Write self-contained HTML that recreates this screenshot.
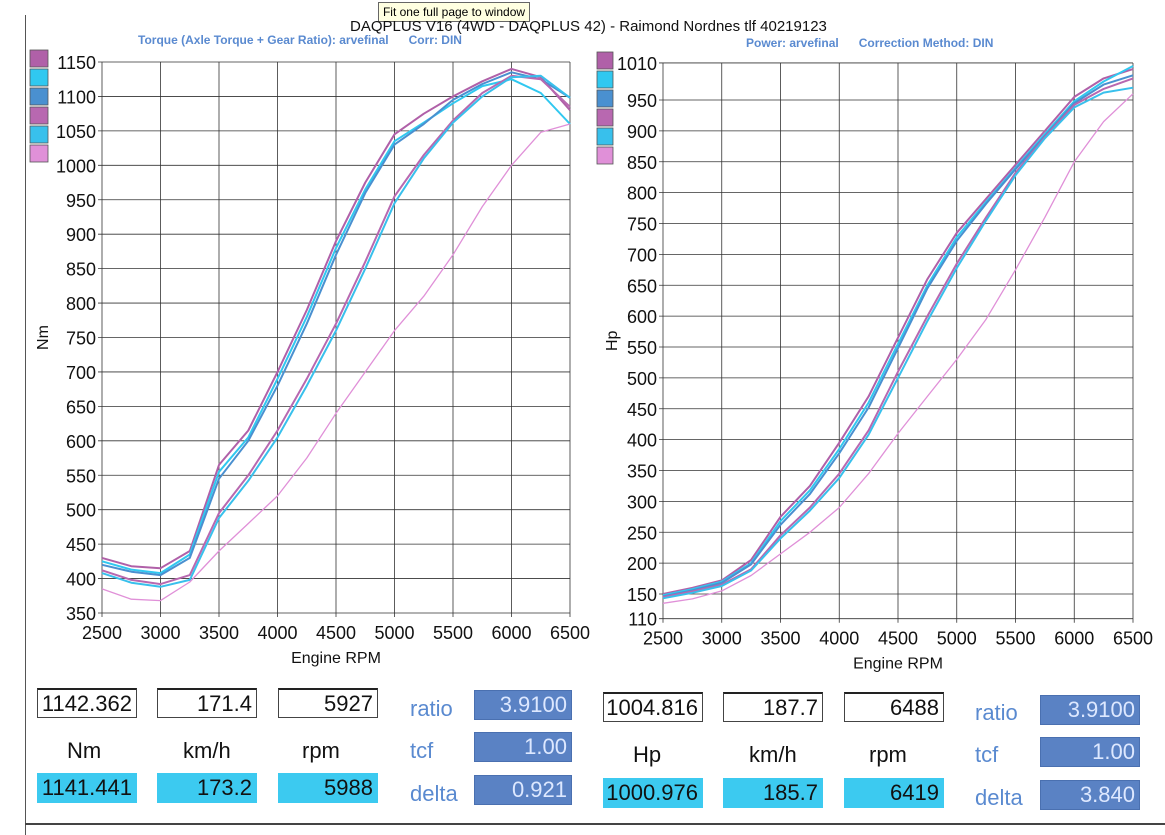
<!DOCTYPE html>
<html><head><meta charset="utf-8">
<style>
body{margin:0;width:1165px;height:835px;background:#fff;position:relative;overflow:hidden;font-family:"Liberation Sans",sans-serif}
.abs{position:absolute}
.box{position:absolute;border:1px solid #444;border-top:2px solid #222;background:#fff;font-size:22px;text-align:right;padding-right:4px;box-sizing:border-box;height:30px;line-height:28px;color:#111}
.cy{background:#3ccaf0;border:1px solid #3ccaf0}
.bl{background:#5a82c4;border:1px solid #4a70b0;color:#dde8ff}
.lbl{position:absolute;font-size:22px;color:#111}
.bl-t{position:absolute;font-size:22px;color:#5a8ad0}
</style></head><body>
<div class="abs" style="left:378px;top:2px;width:150px;height:18px;background:#ffffe1;border:1px solid #666;font-size:12px;line-height:18px;text-align:center">Fit one full page to window</div>
<div class="abs" style="left:350px;top:18px;font-size:15px;color:#111">DAQPLUS V16 (4WD - DAQPLUS 42) - Raimond Nordnes tlf 40219123</div>
<div class="abs" style="left:138px;top:33px;font-size:12px;font-weight:bold;color:#5a8ad0">Torque (Axle Torque + Gear Ratio): arvefinal&nbsp;&nbsp;&nbsp;&nbsp;&nbsp;&nbsp;Corr: DIN</div>
<div class="abs" style="left:746px;top:36px;font-size:12px;font-weight:bold;color:#5a8ad0">Power: arvefinal&nbsp;&nbsp;&nbsp;&nbsp;&nbsp;&nbsp;Correction Method: DIN</div>
<div class="abs" style="left:25px;top:15px;width:1px;height:820px;background:#555"></div>
<svg class="abs" style="left:0;top:0" width="1165" height="835" id="svg"></svg>

<div>
<div class="box" style="left:37px;top:688px;width:100px">1142.362</div>
<div class="box" style="left:157px;top:688px;width:100px">171.4</div>
<div class="box" style="left:278px;top:688px;width:100px">5927</div>
<div class="lbl" style="left:67px;top:738px">Nm</div>
<div class="lbl" style="left:183px;top:738px">km/h</div>
<div class="lbl" style="left:302px;top:738px">rpm</div>
<div class="box cy" style="left:37px;top:773px;width:100px">1141.441</div>
<div class="box cy" style="left:157px;top:773px;width:100px">173.2</div>
<div class="box cy" style="left:278px;top:773px;width:100px">5988</div>
<div class="bl-t" style="left:410px;top:696px">ratio</div>
<div class="bl-t" style="left:410px;top:738px">tcf</div>
<div class="bl-t" style="left:410px;top:781px">delta</div>
<div class="box bl" style="left:474px;top:690px;width:98px">3.9100</div>
<div class="box bl" style="left:474px;top:732px;width:98px">1.00</div>
<div class="box bl" style="left:474px;top:775px;width:98px">0.921</div>
</div>
<div>
<div class="box" style="left:603px;top:692px;width:100px">1004.816</div>
<div class="box" style="left:723px;top:692px;width:100px">187.7</div>
<div class="box" style="left:844px;top:692px;width:100px">6488</div>
<div class="lbl" style="left:633px;top:742px">Hp</div>
<div class="lbl" style="left:749px;top:742px">km/h</div>
<div class="lbl" style="left:869px;top:742px">rpm</div>
<div class="box cy" style="left:603px;top:778px;width:100px">1000.976</div>
<div class="box cy" style="left:723px;top:778px;width:100px">185.7</div>
<div class="box cy" style="left:844px;top:778px;width:100px">6419</div>
<div class="bl-t" style="left:975px;top:700px">ratio</div>
<div class="bl-t" style="left:975px;top:742px">tcf</div>
<div class="bl-t" style="left:975px;top:785px">delta</div>
<div class="box bl" style="left:1040px;top:695px;width:100px">3.9100</div>
<div class="box bl" style="left:1040px;top:737px;width:100px">1.00</div>
<div class="box bl" style="left:1040px;top:780px;width:100px">3.840</div>
</div>
<div class="abs" style="left:25px;top:823px;width:1140px;height:2px;background:#444"></div>

<script>
const rpm = [2500,2750,3000,3250,3500,3750,4000,4250,4500,4750,5000,5250,5500,5750,6000,6250,6500];
const xTicks = [2500,3000,3500,4000,4500,5000,5500,6000,6500];
const torqueTicks = [1150,1100,1050,1000,950,900,850,800,750,700,650,600,550,500,450,400,350];
const powerTicks = [1010,950,900,850,800,750,700,650,600,550,500,450,400,350,300,250,200,150,110];
const colors = ['#b060a8','#30c8f0','#4a90d0','#b868b0','#38c0ec','#e090d8'];
const torque1 = [430,418,415,440,565,615,700,790,890,975,1045,1075,1100,1122,1140,1128,1080];
const torque2 = [425,413,408,435,555,605,690,780,880,965,1035,1062,1090,1115,1125,1105,1060];
const torque3 = [420,410,405,430,545,600,680,770,870,960,1030,1060,1095,1118,1135,1125,1098];
const torque4 = [412,398,392,405,495,550,615,690,770,860,955,1015,1065,1105,1130,1125,1085];
const torque5 = [408,394,388,398,488,542,605,680,760,850,945,1010,1062,1100,1128,1130,1098];
const torque6 = [385,370,368,395,440,480,520,575,640,700,760,810,870,940,1000,1048,1060];
const power1 = [150,160,172,205,275,325,395,470,565,660,735,790,845,900,955,985,1000];
const power2 = [148,158,170,200,268,318,385,460,555,650,728,785,840,895,948,980,1005];
const power3 = [146,156,168,198,262,312,378,452,548,645,722,782,838,892,945,975,990];
const power4 = [145,154,165,190,245,290,345,415,510,600,685,760,832,890,942,968,985];
const power5 = [143,152,163,188,240,285,338,408,500,592,678,755,828,888,938,962,970];
const power6 = [135,142,155,180,215,250,290,345,410,470,530,595,675,760,850,915,960];

const svg = document.getElementById('svg');
const NS = 'http://www.w3.org/2000/svg';
function mk(tag, attrs, parent){const e=document.createElementNS(NS,tag);for(const k in attrs)e.setAttribute(k,attrs[k]);(parent||svg).appendChild(e);return e;}

function chart(cfg){
  const g = mk('g',{});
  
  
  const X = v => cfg.x0 + (v-2500)/4000*(cfg.x1-cfg.x0);
  const Y = v => cfg.yA + (cfg.vA - v)/(cfg.vA-cfg.vB)*(cfg.yB-cfg.yA);
  const top = Y(cfg.yTicks[0]), bot = Y(cfg.yTicks[cfg.yTicks.length-1]);
  cfg.yTicks.forEach(t=>{
    const y=Y(t);
    const l=mk('line',{x1:cfg.x0-4,x2:cfg.x1,y1:y,y2:y,stroke:'#333','stroke-width':0.8},g);
    
    
    const tx=mk('text',{x:cfg.x0-6,y:y+7,'text-anchor':'end','font-size':18,fill:'#111','font-family':'Liberation Sans'},g);
    tx.textContent=t;
    
    
  });
  xTicks.forEach(t=>{
    const x=X(t);
    const l=mk('line',{x1:x,x2:x,y1:top,y2:bot+4,stroke:'#333','stroke-width':0.8},g);
    
    
    const tx=mk('text',{x:x,y:bot+26,'text-anchor':'middle','font-size':18,fill:'#111','font-family':'Liberation Sans'},g);
    tx.textContent=t;
    
    
  });
  const xt=mk('text',{x:(cfg.x0+cfg.x1)/2,y:bot+50,'text-anchor':'middle','font-size':16,fill:'#111','font-family':'Liberation Sans'},g);
  xt.textContent='Engine RPM';
  
  
  const yt=mk('text',{x:cfg.ytx,y:(top+bot)/2,'text-anchor':'middle','font-size':16,fill:'#111','font-family':'Liberation Sans',transform:`rotate(-90 ${cfg.ytx} ${(top+bot)/2})`},g);
  yt.textContent=cfg.yTitle;
  
  
  cfg.series.forEach((s,i)=>{
    const d=s.map((v,j)=>(j?'L':'M')+X(rpm[j]).toFixed(1)+','+Y(v).toFixed(1)).join(' ');
    const p=mk('path',{d:d,fill:'none',stroke:colors[i],'stroke-width':i==5?1.3:2,'stroke-linejoin':'round'},g);
    
    
    const r=mk('rect',{x:cfg.lx,y:cfg.ly+i*cfg.ls,width:cfg.lw,height:cfg.ls-2,fill:colors[i],stroke:'#555','stroke-width':0.8},g);
    
    
  });
}
chart({name:'torque-chart',x0:102,x1:570,yA:62,vA:1150,yB:613,vB:350,yTicks:torqueTicks,yTitle:'Nm',ytx:48,
  series:[torque1,torque2,torque3,torque4,torque5,torque6],lx:30,ly:50,ls:19,lw:18});
chart({name:'power-chart',x0:663,x1:1133,yA:100,vA:950,yB:594,vB:150,yTicks:powerTicks,yTitle:'Hp',ytx:617,
  series:[power1,power2,power3,power4,power5,power6],lx:597,ly:52,ls:19,lw:16});
</script>
</body></html>
